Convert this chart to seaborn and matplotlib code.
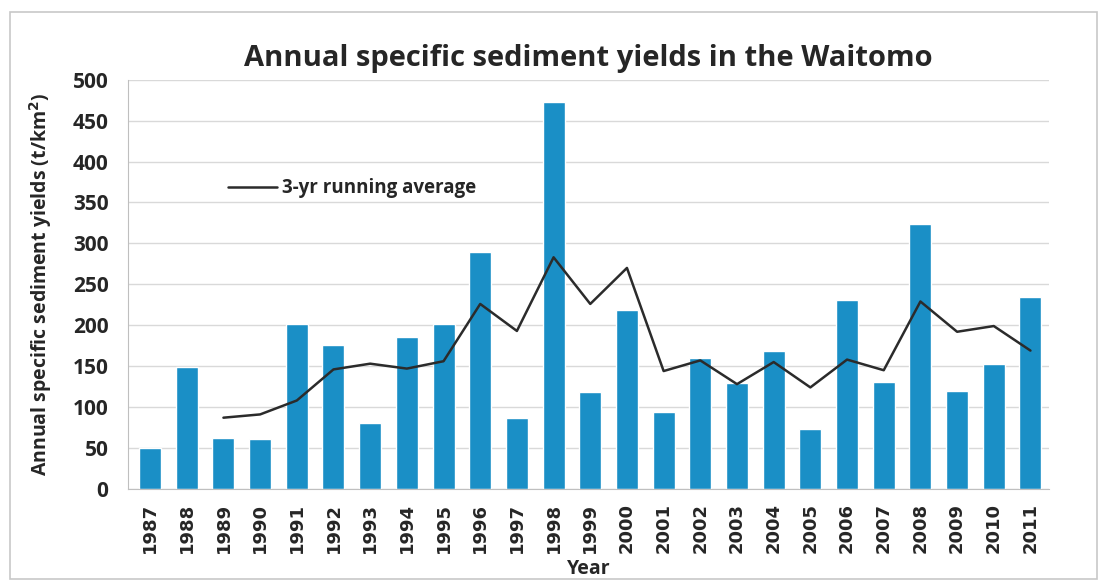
import matplotlib
matplotlib.use("Agg")
import matplotlib.pyplot as plt
import seaborn as sns
import pandas as pd
import numpy as np
from matplotlib.patches import Rectangle

years = list(range(1987, 2012))
yields = [50, 149, 62, 61, 202, 176, 81, 185, 202, 290, 87, 473, 119, 218,
          94, 160, 130, 169, 73, 231, 131, 324, 120, 152, 234]
avg_years = list(range(1989, 2012))
running_avg = [87, 91, 108, 146, 153, 147, 156, 226, 193, 283, 226, 270,
               144, 157, 128, 155, 124, 158, 145, 229, 192, 199, 169]
y_ticks = list(range(0, 501, 50))

sns.set_style("white")
plt.rcParams["font.family"] = ["Open Sans", "DejaVu Sans"]

df = pd.DataFrame({"Year": [str(y) for y in years], "Yield": yields})
avg_df = pd.DataFrame({"pos": [years.index(y) for y in avg_years], "Avg": running_avg})

fig = plt.figure(figsize=(11.04, 5.82), dpi=100)
ax = fig.add_axes([0.116, 0.160, 0.834, 0.703])

sns.barplot(data=df, x="Year", y="Yield", color="#1a8fc6", saturation=1,
            width=0.6, ax=ax, zorder=2)
sns.lineplot(data=avg_df, x="pos", y="Avg", color="#2b2b2b", linewidth=1.8,
             ax=ax, zorder=3, label="3-yr running average")

ax.set_ylim(0, 500)
ax.set_xlim(-0.6, 24.4)
ax.set_yticks(y_ticks, labels=[str(v) for v in y_ticks], fontsize=15,
              fontweight="bold")
ax.yaxis.grid(True, color="#d9d9d9", linewidth=1.0, zorder=0)
ax.set_axisbelow(True)
for s in ["top", "right"]:
    ax.spines[s].set_visible(False)
ax.spines["left"].set_color("#bfbfbf")
ax.spines["bottom"].set_color("#bfbfbf")

ax.set_xticks(range(len(years)), labels=[str(y) for y in years], rotation=90,
              fontsize=13, fontweight="bold", family=["DejaVu Sans"])
ax.tick_params(axis="x", length=0, pad=10)
ax.set_xticks(np.arange(-0.5, len(years), 1), minor=True)
ax.tick_params(axis="x", which="minor", length=5, color="#bfbfbf")
ax.tick_params(axis="y", length=0, pad=14)

ax.set_xlabel("Year", fontsize=14, fontweight="bold")
ax.xaxis.set_label_coords(0.5, -0.172)
ax.set_ylabel("Annual specific sediment yields (t/km$^\\mathbf{2}$)", fontsize=14,
              fontweight="bold")
ax.yaxis.set_label_coords(-0.08, 0.5)
ax.set_title("Annual specific sediment yields in the Waitomo", fontsize=21,
             fontweight="bold", pad=10)

leg = ax.legend(loc="upper left", bbox_to_anchor=(0.09, 0.80), frameon=False,
                handlelength=2.6, handletextpad=0.3,
                prop={"size": 13.5, "weight": "bold"})

fig.patches.append(Rectangle((0.009, 0.005), 0.985, 0.975, transform=fig.transFigure,
                             fill=False, edgecolor="#c8c8c8", linewidth=1.2))

fig.savefig("out.png", dpi=100)
